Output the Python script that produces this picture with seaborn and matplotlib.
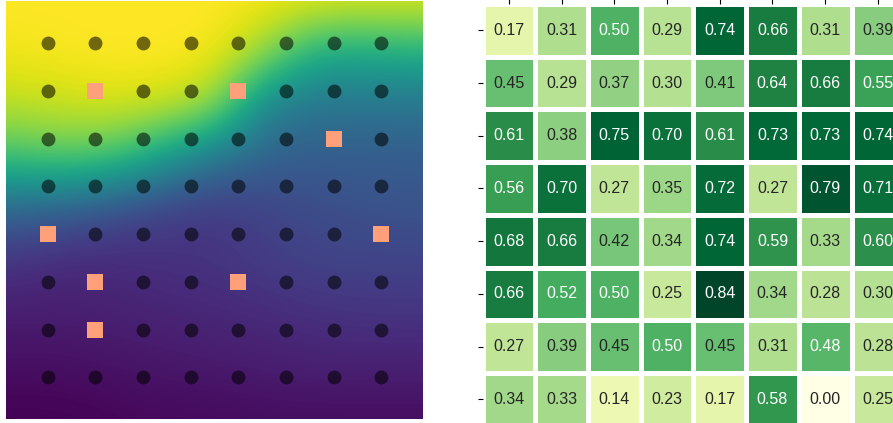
import numpy as np
import pandas as pd
import seaborn as sns
import matplotlib
matplotlib.use("Agg")
import matplotlib.pyplot as plt

plt.rcParams['font.family'] = ['Liberation Sans', 'DejaVu Sans']

# background field (9x9 samples, top row first)
field = [
    [1.00, 1.00, 1.00, 1.00, 1.00, 0.99, 0.97, 0.96, 0.96],
    [0.98, 0.99, 1.00, 1.00, 0.99, 0.84, 0.59, 0.60, 0.62],
    [0.90, 0.92, 0.94, 0.93, 0.86, 0.42, 0.38, 0.38, 0.38],
    [0.70, 0.74, 0.72, 0.55, 0.38, 0.31, 0.29, 0.29, 0.29],
    [0.32, 0.29, 0.23, 0.18, 0.16, 0.20, 0.23, 0.25, 0.26],
    [0.15, 0.12, 0.12, 0.14, 0.15, 0.18, 0.20, 0.20, 0.20],
    [0.08, 0.08, 0.09, 0.10, 0.11, 0.12, 0.14, 0.15, 0.15],
    [0.04, 0.04, 0.05, 0.06, 0.07, 0.08, 0.09, 0.09, 0.09],
    [0.00, 0.00, 0.01, 0.02, 0.02, 0.03, 0.03, 0.03, 0.03],
]

# 8x8 grid of points, highlighted cells as (col, row) from the top
grid_cols = list(range(8))
grid_rows = list(range(8))
marked_cols = [1, 4, 6, 0, 7, 1, 4, 1]
marked_rows = [1, 1, 2, 4, 4, 5, 5, 6]

# heatmap values
scores = [
    [0.17, 0.31, 0.50, 0.29, 0.74, 0.66, 0.31, 0.39],
    [0.45, 0.29, 0.37, 0.30, 0.41, 0.64, 0.66, 0.55],
    [0.61, 0.38, 0.75, 0.70, 0.61, 0.73, 0.73, 0.74],
    [0.56, 0.70, 0.27, 0.35, 0.72, 0.27, 0.79, 0.71],
    [0.68, 0.66, 0.42, 0.34, 0.74, 0.59, 0.33, 0.60],
    [0.66, 0.52, 0.50, 0.25, 0.84, 0.34, 0.28, 0.30],
    [0.27, 0.39, 0.45, 0.50, 0.45, 0.31, 0.48, 0.28],
    [0.34, 0.33, 0.14, 0.23, 0.17, 0.58, 0.00, 0.25],
]

fig = plt.figure(figsize=(8.93, 4.23), dpi=100)

# === Left: field with points ===
ax1 = fig.add_axes([6 / 893, 4 / 423, 417 / 893, 417.5 / 423])
lo, hi = -0.875, 7.875
half = (hi - lo) / 8 / 2
ax1.imshow(np.array(field), cmap='viridis', vmin=0, vmax=1, interpolation='bicubic',
           extent=(lo - half, hi + half, hi + half, lo - half), aspect='auto')

pts = pd.DataFrame([(c, r) for r in grid_rows for c in grid_cols], columns=['col', 'row'])
marked = pd.DataFrame({'col': marked_cols, 'row': marked_rows})
sns.scatterplot(data=pts, x='col', y='row', color='black', alpha=0.55, s=100,
                linewidth=0, ax=ax1)
sns.scatterplot(data=marked, x='col', y='row', color='#ffa07a', marker='s', s=121,
                linewidth=0, ax=ax1)
ax1.set_xlim(lo, hi)
ax1.set_ylim(hi, lo)
ax1.axis('off')

# === Right: annotated heatmap ===
ax2 = fig.add_axes([482.6 / 893, -2.6 / 423, 421.6 / 893, 421.6 / 423])
sns.heatmap(pd.DataFrame(scores), annot=True, fmt='.2f', cmap='YlGn', cbar=False,
            linewidths=3.3, linecolor='white', annot_kws={'fontsize': 11.5},
            xticklabels=[''] * 8, yticklabels=[''] * 8, ax=ax2)
ax2.xaxis.tick_top()
ax2.set_xlabel('')
ax2.set_ylabel('')

fig.savefig('out.png', dpi=100)
